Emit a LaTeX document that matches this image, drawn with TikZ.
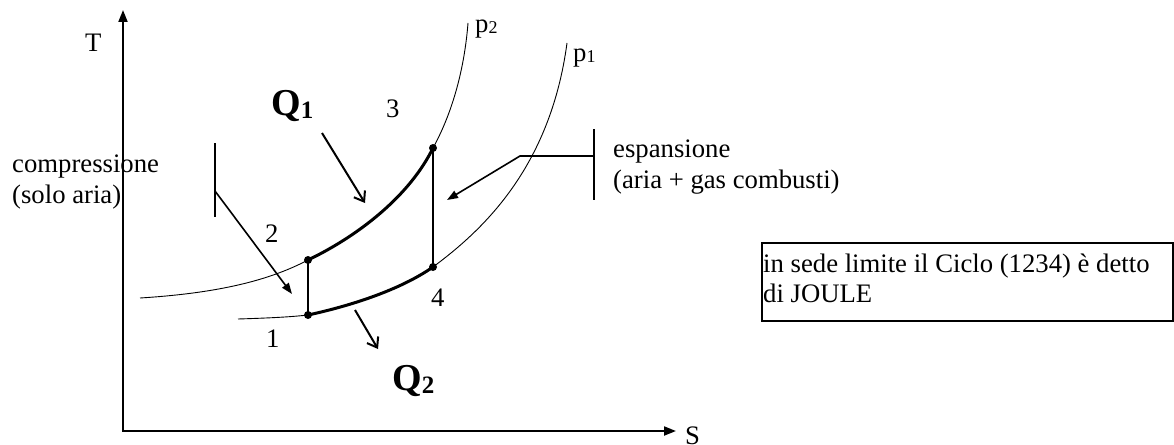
\documentclass[tikz,border=0pt]{standalone}
\usepackage{fontspec}
\setmainfont{Liberation Serif}
\usetikzlibrary{arrows.meta}
\begin{document}
\begin{tikzpicture}[x=1pt,y=-1pt,
  txt/.style={anchor=base west,inner sep=0pt,font=\fontsize{26.7}{30}\selectfont},
  qlab/.style={anchor=base west,inner sep=0pt,font=\fontsize{38}{40}\selectfont\bfseries},
  axis/.style={line width=2pt,-{Triangle[length=12pt,width=9pt]}},
  thin/.style={line width=0.9pt},
  cycle/.style={line width=3pt,line cap=round,line join=round},
  filledarrow/.style={line width=1.6pt,-{Triangle[length=11pt,width=8pt]}},
  openarrow/.style={line width=2pt,-{Straight Barb[length=9pt,width=13pt]}},
  bar/.style={line width=2pt},
  dot/.style={circle,fill,inner sep=0pt,minimum size=8pt}]
\useasboundingbox (0,0) rectangle (1174,444);
% axes
\coordinate (O) at (123,431);
\coordinate (Ttop) at (123,10);
\coordinate (Sright) at (676,431);
\draw[axis] (O) -- (Ttop);
\draw[axis] ([xshift=-1pt]O) -- (Sright);
\node[txt] (T) at (85,52) {T};
\node[txt] (S) at (685,444) {S};
% cycle points
\coordinate (c1) at (308,315);
\coordinate (c2) at (308,260);
\coordinate (c3) at (433,148);
\coordinate (c4) at (433,267);
% isobars
\draw[thin] (140,298) .. controls (220,293) and (270,280) .. (c2)
  .. controls (360,235) and (410,195) .. (c3)
  .. controls (455,108) and (465,62) .. (468,23);
\draw[thin] (238,319) .. controls (270,318) and (290,317) .. (c1)
  .. controls (350,306) and (400,290) .. (c4)
  .. controls (480,232) and (550,170) .. (567,43);
\node[txt] (p2) at (475,33) {p\raisebox{-1pt}{\fontsize{18}{20}\selectfont 2}};
\node[txt] (p1) at (573,62) {p\raisebox{-1pt}{\fontsize{18}{20}\selectfont 1}};
% cycle
\draw[cycle] (c2) .. controls (360,235) and (410,195) .. (c3);
\draw[cycle] (c1) .. controls (350,306) and (400,290) .. (c4);
\draw[line width=2.2pt] (c1) -- (c2);
\draw[line width=2.2pt] (c3) -- (c4);
\foreach \p in {c1,c2,c3,c4} \node[dot] at (\p) {};
% point labels
\node[txt] (l1) at (266,347) {1};
\node[txt] (l2) at (265,242) {2};
\node[txt] (l3) at (386,117) {3};
\node[txt] (l4) at (431,306) {4};
% heat
\node[qlab] (Q1) at (271,115) {Q\raisebox{-3pt}{\fontsize{25}{26}\selectfont\bfseries 1}};
\node[qlab] (Q2) at (392,390) {Q\raisebox{-3pt}{\fontsize{25}{26}\selectfont\bfseries 2}};
\coordinate (q1s) at (322,133);
\coordinate (q1e) at (365,203);
\draw[openarrow] (q1s) -- (q1e);
\coordinate (q2s) at (355,310);
\coordinate (q2e) at (378,349);
\draw[openarrow] (q2s) -- (q2e);
% compressione
\node[txt] (comp) at (12,172) {compressione};
\node[txt] (sola) at (12,203) {(solo aria)};
\coordinate (cbt) at (215,143);
\coordinate (cbb) at (215,217);
\draw[bar] (cbt) -- (cbb);
\coordinate (cas) at (215,191);
\coordinate (cae) at (292,294);
\draw[filledarrow] (cas) -- (cae);
% espansione
\node[txt] (esp) at (613,157) {espansione};
\node[txt] (gas) at (613,188) {(aria + gas combusti)};
\coordinate (ebt) at (594,129);
\coordinate (ebb) at (594,200);
\draw[bar] (ebt) -- (ebb);
\coordinate (eas) at (594,156);
\coordinate (eak) at (520,156);
\coordinate (eae) at (447,200);
\draw[filledarrow] (eas) -- (eak) -- (eae);
% box
\node[draw,line width=2pt,anchor=north west,minimum width=411pt,minimum height=78pt,inner sep=0pt] (box) at (761,242) {};
\node[txt] (bt1) at (763,272) {in sede limite il Ciclo (1234) è detto};
\node[txt] (bt2) at (763,302) {di JOULE};
\end{tikzpicture}
\end{document}
